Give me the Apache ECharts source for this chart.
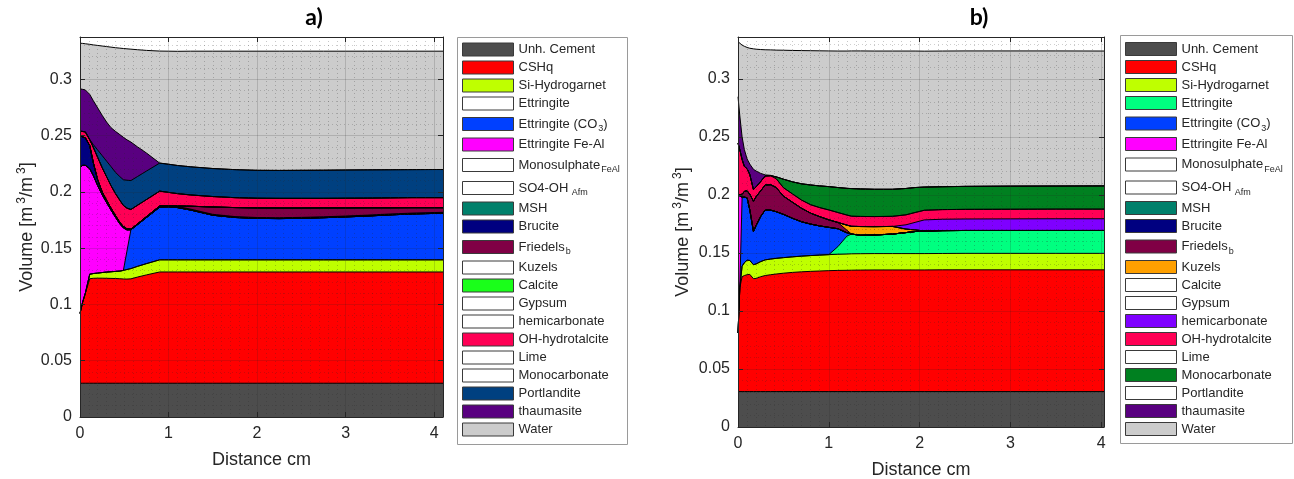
<!DOCTYPE html>
<html>
<head>
<meta charset="utf-8">
<script src="https://cdn.jsdelivr.net/npm/echarts@6/dist/echarts.min.js"></script>
<style>
html, body { margin: 0; padding: 0; background: #fff; }
#chart { width: 1294px; height: 479px; }
</style>
</head>
<body>
<div id="chart"></div>
<script>
// phases, bottom of the stack first (same order as the legends)
const phaseNames = [
  'Unh. Cement', 'CSHq', 'Si-Hydrogarnet', 'Ettringite', 'Ettringite (CO3)',
  'Ettringite Fe-Al', 'Monosulphate FeAl', 'SO4-OH Afm', 'MSH', 'Brucite',
  'Friedels b', 'Kuzels', 'Calcite', 'Gypsum', 'hemicarbonate',
  'OH-hydrotalcite', 'Lime', 'Monocarbonate', 'Portlandite', 'thaumasite', 'Water'
];

// ---- panel a) : volume of each phase [m3/m3] vs distance [cm]
const xA = [0, 0.03, 0.06, 0.11, 0.15, 0.2, 0.25, 0.3, 0.35, 0.4, 0.45, 0.49, 0.53, 0.575, 0.65, 0.75,
  0.9, 1.0, 1.1, 1.25, 1.5, 1.75, 2.0, 2.25, 2.5, 2.75, 3.0, 3.25, 3.5, 3.75, 4.0, 4.1];
const cementA = xA.map(() => 0.03);
const cshqA = [0.062, 0.072, 0.0798, 0.0928, 0.0932, 0.0933, 0.0933, 0.0932, 0.0931, 0.093, 0.0928, 0.0926, 0.0925, 0.0927, 0.0943, 0.0962,
  0.0988, 0.0988, 0.0988, 0.0988, 0.0988, 0.0988, 0.0988, 0.0988, 0.0988, 0.0988, 0.0988, 0.0988, 0.0988, 0.0988, 0.0988, 0.0988];
const siHydrogarnetA = [0, 0, 0, 0.004, 0.0042, 0.0045, 0.005, 0.0055, 0.0059, 0.0063, 0.0068, 0.0076, 0.0085, 0.0091, 0.0095, 0.01,
  0.0108, 0.0108, 0.0108, 0.0108, 0.0108, 0.0108, 0.0108, 0.0108, 0.0108, 0.0108, 0.0108, 0.0108, 0.0108, 0.0108, 0.0108, 0.0108];
const ettCO3A = [0, 0, 0, 0, 0, 0, 0, 0, 0, 0, 0, 0, 0.0163, 0.0345, 0.0371, 0.0409,
  0.0468, 0.047, 0.0464, 0.0442, 0.0396, 0.0376, 0.0368, 0.0366, 0.0369, 0.0374, 0.0381, 0.0389, 0.0399, 0.0407, 0.0412, 0.0414];
const ettFeAlA = [0.1295, 0.1215, 0.1137, 0.0937, 0.0871, 0.0777, 0.0692, 0.0618, 0.0548, 0.0482, 0.0419, 0.0378, 0.0189, 0, 0, 0,
  0, 0, 0, 0, 0, 0, 0, 0, 0, 0, 0, 0, 0, 0, 0, 0];
const bruciteA = [0.0285, 0.0252, 0.0245, 0.0205, 0.0115, 0.005, 0.0025, 0.002, 0.0017, 0.0015, 0.0013, 0.0012, 0.001, 0.0005, 0.0006, 0.0008,
  0.001, 0.0012, 0.001, 0.0008, 0.0008, 0.0008, 0.0008, 0.0008, 0.0008, 0.0008, 0.0008, 0.0008, 0.0008, 0.0008, 0.0008, 0.0008];
const friedelsA = [0, 0, 0, 0, 0, 0, 0, 0, 0, 0, 0, 0, 0, 0, 0, 0,
  0, 0, 0.0004, 0.0026, 0.0065, 0.008, 0.0085, 0.0086, 0.0083, 0.0079, 0.0072, 0.0065, 0.0055, 0.0048, 0.0043, 0.0041];
const ohHydrotalciteA = [0.0038, 0.0049, 0.0052, 0.0052, 0.0136, 0.02, 0.0215, 0.021, 0.02, 0.0195, 0.0197, 0.0187, 0.0183, 0.0175, 0.0166, 0.0152,
  0.0132, 0.0117, 0.011, 0.01, 0.0093, 0.0088, 0.0086, 0.0086, 0.0086, 0.0085, 0.0086, 0.0086, 0.0088, 0.0089, 0.0089, 0.0089];
const portlanditeA = [0, 0, 0, 0.0003, 0.0024, 0.0066, 0.0107, 0.0138, 0.0169, 0.0189, 0.021, 0.0228, 0.0248, 0.0257, 0.0255, 0.0253,
  0.0249, 0.025, 0.025, 0.025, 0.0249, 0.0249, 0.0248, 0.0248, 0.0249, 0.025, 0.0251, 0.0251, 0.025, 0.0249, 0.025, 0.025];
const thaumasiteA = [0.0377, 0.0374, 0.0373, 0.04, 0.039, 0.0374, 0.0358, 0.0347, 0.0346, 0.0363, 0.0373, 0.0377, 0.0359, 0.0342, 0.0263, 0.0161,
  0, 0, 0, 0, 0, 0, 0, 0, 0, 0, 0, 0, 0, 0, 0, 0];
const waterA = [0.0405, 0.0408, 0.041, 0.0445, 0.0495, 0.0555, 0.0615, 0.067, 0.0715, 0.0743, 0.0768, 0.0789, 0.0808, 0.0825, 0.0863, 0.0911,
  0.0995, 0.1004, 0.1014, 0.1027, 0.1042, 0.1052, 0.1058, 0.1059, 0.1058, 0.1057, 0.1055, 0.1054, 0.1053, 0.1052, 0.1051, 0.1051];

// ---- panel b)
const xB = [0, 0.02, 0.045, 0.07, 0.1, 0.13, 0.17, 0.2, 0.25, 0.3, 0.36, 0.42, 0.5, 0.6, 0.7, 0.8,
  0.9, 1.0, 1.1, 1.2, 1.25, 1.35, 1.5, 1.7, 1.85, 1.95, 2.05, 2.25, 2.5, 3.0, 3.5, 4.03];
const cementB = xB.map(() => 0.0305);
const cshqB = [0.0505, 0.0895, 0.099, 0.1, 0.1007, 0.101, 0.0973, 0.0975, 0.099, 0.1, 0.1007, 0.1013, 0.102, 0.1027, 0.1032, 0.1036,
  0.1039, 0.1042, 0.1044, 0.1045, 0.1046, 0.1047, 0.1048, 0.1048, 0.1048, 0.1048, 0.1048, 0.1049, 0.1049, 0.1049, 0.1049, 0.1049];
const siHydrogarnetB = [0, 0, 0.009, 0.011, 0.0125, 0.012, 0.012, 0.0125, 0.013, 0.0135, 0.0135, 0.0135, 0.0134, 0.0134, 0.0135, 0.0136,
  0.0137, 0.0138, 0.0139, 0.014, 0.0141, 0.0141, 0.0141, 0.0141, 0.0141, 0.0141, 0.0141, 0.0141, 0.0142, 0.0142, 0.0142, 0.0142];
const ettringiteB = [0, 0, 0, 0, 0, 0, 0, 0, 0, 0, 0, 0, 0, 0, 0, 0,
  0, 0, 0.0066, 0.0155, 0.017, 0.0159, 0.016, 0.0168, 0.0181, 0.019, 0.0195, 0.0197, 0.0197, 0.0197, 0.0197, 0.0197];
const ettCO3B = [0, 0, 0.059, 0.0565, 0.0538, 0.0435, 0.0287, 0.0332, 0.0389, 0.043, 0.0421, 0.0402, 0.0373, 0.0332, 0.0296, 0.0271,
  0.0251, 0.0235, 0.0154, 0.0028, 0, 0, 0, 0, 0, 0, 0, 0, 0, 0, 0, 0];
const ettFeAlB = [0.119, 0.08, 0.0005, 0, 0, 0, 0, 0, 0, 0, 0, 0, 0, 0, 0, 0,
  0, 0, 0, 0, 0, 0, 0, 0, 0, 0, 0, 0, 0, 0, 0, 0];
const friedelsB = [0, 0, 0.0025, 0.005, 0.006, 0.0135, 0.026, 0.0248, 0.0221, 0.0215, 0.0219, 0.0208, 0.0157, 0.0138, 0.0116, 0.0094,
  0.008, 0.0065, 0.0054, 0.0022, 0, 0, 0, 0, 0, 0, 0, 0, 0, 0, 0, 0];
const kuzelsB = [0, 0, 0, 0, 0, 0, 0, 0, 0, 0, 0, 0, 0, 0, 0, 0,
  0, 0, 0, 0.0044, 0.0067, 0.0075, 0.0072, 0.0066, 0.003, 0.0014, 0, 0, 0, 0, 0, 0];
const hemicarbonateB = [0, 0, 0, 0, 0, 0, 0, 0, 0, 0, 0, 0, 0, 0, 0, 0,
  0, 0, 0, 0, 0, 0, 0, 0, 0.0037, 0.0065, 0.0095, 0.0098, 0.0099, 0.01, 0.0101, 0.0101];
const ohHydrotalciteB = [0.0445, 0.039, 0.03, 0.0215, 0.019, 0.017, 0.01, 0.0085, 0.008, 0.0078, 0.0078, 0.0077, 0.0073, 0.0072, 0.0071, 0.0073,
  0.0078, 0.0085, 0.0086, 0.0087, 0.0087, 0.0087, 0.0087, 0.0087, 0.0086, 0.0085, 0.0083, 0.0083, 0.0083, 0.0083, 0.0083, 0.0083];
const monocarbonateB = [0, 0, 0, 0, 0, 0, 0, 0, 0, 0, 0, 0.0015, 0.0073, 0.0104, 0.014, 0.017,
  0.0187, 0.0201, 0.0215, 0.023, 0.0238, 0.0237, 0.0235, 0.0233, 0.0227, 0.0215, 0.02, 0.0197, 0.0198, 0.0199, 0.0199, 0.02];
const thaumasiteB = [0.04, 0.029, 0.0195, 0.0145, 0.0085, 0.009, 0.0175, 0.0135, 0.007, 0.0009, 0.0003, 0, 0, 0, 0, 0,
  0, 0, 0, 0, 0, 0, 0, 0, 0, 0, 0, 0, 0, 0, 0, 0];
const waterB = [0.0475, 0.0625, 0.079, 0.089, 0.096, 0.0998, 0.1038, 0.105, 0.1067, 0.1078, 0.1081, 0.1092, 0.1111, 0.1132, 0.1148, 0.1157,
  0.1164, 0.1169, 0.1176, 0.1183, 0.1186, 0.1189, 0.1191, 0.1191, 0.1184, 0.1176, 0.1171, 0.1169, 0.1167, 0.1165, 0.1164, 0.1162];

// null = phase not formed in that run
const layersA = [cementA, cshqA, siHydrogarnetA, null, ettCO3A, ettFeAlA, null, null, null, bruciteA,
  friedelsA, null, null, null, null, ohHydrotalciteA, null, null, portlanditeA, thaumasiteA, waterA];
const layersB = [cementB, cshqB, siHydrogarnetB, ettringiteB, ettCO3B, ettFeAlB, null, null, null, null,
  friedelsB, kuzelsB, null, null, hemicarbonateB, ohHydrotalciteB, null, monocarbonateB, null, thaumasiteB, waterB];

const colorsA = ['#4d4d4d', '#ff0000', '#bfff00', '#ffffff', '#0040ff', '#ff00ff', '#ffffff', '#ffffff', '#00806b', '#000080',
  '#800045', '#ffffff', '#1aff1a', '#ffffff', '#ffffff', '#ff0055', '#ffffff', '#ffffff', '#004080', '#590080', '#cccccc'];
const colorsB = ['#4d4d4d', '#ff0000', '#bfff00', '#00ff80', '#0040ff', '#ff00ff', '#ffffff', '#ffffff', '#00806b', '#000080',
  '#800045', '#ffa000', '#ffffff', '#ffffff', '#7f00ff', '#ff0055', '#ffffff', '#008020', '#ffffff', '#590080', '#cccccc'];

const FONT = '"Liberation Sans", Arial, Helvetica, sans-serif';
const INK = '#262626';

const richLabels = {
  'Ettringite (CO3)': '{n|Ettringite (CO}{s|3}{n|)}',
  'Monosulphate FeAl': '{n|Monosulphate}{s|FeAl}',
  'SO4-OH Afm': '{n|SO4-OH}{s| Afm}',
  'Friedels b': '{n|Friedels}{s|b}'
};

// stacked areas: cumulative tops, drawn from the top phase down so lower ones paint over
function buildSeries(tag, xs, layers, colors, axis) {
  let run = xs.map(() => 0);
  const tops = layers.map(vals => {
    run = run.map((r, j) => r + (vals ? vals[j] : 0));
    return run.slice();
  });
  const out = [];
  for (let i = layers.length - 1; i >= 0; i--) {
    out.push({
      type: 'line',
      name: tag + '|' + phaseNames[i],
      xAxisIndex: axis,
      yAxisIndex: axis,
      data: xs.map((x, j) => [x, tops[i][j]]),
      symbol: 'none',
      silent: true,
      z: 2,
      lineStyle: { color: '#000', width: 1 },
      itemStyle: { color: colors[i] },
      areaStyle: { color: colors[i], opacity: 1, origin: 'start' }
    });
  }
  return out;
}

function buildLegend(tag, colors, left, top) {
  return {
    orient: 'vertical',
    left: left,
    top: top,
    padding: 0,
    itemWidth: 51,
    itemHeight: 13,
    itemGap: 4.0,
    icon: 'rect',
    selectedMode: false,
    formatter: name => {
      const base = name.slice(2);
      return richLabels[base] || '{n|' + base + '}';
    },
    textStyle: {
      fontFamily: FONT,
      fontSize: 13,
      color: INK,
      rich: {
        n: { fontFamily: FONT, fontSize: 13, lineHeight: 13, color: INK },
        s: { fontFamily: FONT, fontSize: 9, lineHeight: 9, padding: [10, 0, 0, 1], color: INK }
      }
    },
    data: phaseNames.map((p, i) => ({
      name: tag + '|' + p,
      itemStyle: { color: colors[i], borderColor: '#3a3a3a', borderWidth: 1 }
    }))
  };
}

const yName = '{n|Volume [m}{p|3}{n|/m}{p|3}{n|]}';

function xAxes(grid, max) {
  return [{
    type: 'value', gridIndex: grid, position: 'bottom', min: 0, max: max, interval: 1, z: 10,
    name: 'Distance cm', nameLocation: 'middle', nameGap: 34, nameMoveOverlap: false,
    nameTextStyle: { fontFamily: FONT, fontSize: 18, color: INK },
    axisLine: { show: true, onZero: false, lineStyle: { color: INK, width: 1 } },
    axisTick: { show: true, inside: true, length: 5, lineStyle: { color: INK } },
    axisLabel: { show: true, margin: 9, fontFamily: FONT, fontSize: 16, color: INK, showMaxLabel: false },
    splitLine: { show: true, lineStyle: { color: 'rgba(38,38,38,0.17)', width: 1 } },
    minorTick: { show: false, splitNumber: 10 },
    minorSplitLine: { show: true, lineStyle: { color: 'rgba(38,38,38,0.26)', width: 1, type: [1, 3] } }
  }, {
    type: 'value', gridIndex: grid, position: 'top', min: 0, max: max, interval: 1, z: 10,
    axisLine: { show: true, onZero: false, lineStyle: { color: INK, width: 1 } },
    axisTick: { show: true, inside: true, length: 5, lineStyle: { color: INK } },
    axisLabel: { show: false },
    splitLine: { show: false }
  }];
}

function yAxes(grid, max, gap) {
  return [{
    type: 'value', gridIndex: grid, position: 'left', min: 0, max: max, interval: 0.05, z: 10,
    name: yName, nameLocation: 'middle', nameGap: gap, nameRotate: 90, nameMoveOverlap: false,
    nameTextStyle: {
      fontFamily: FONT, fontSize: 18, color: INK,
      rich: {
        n: { fontFamily: FONT, fontSize: 18, lineHeight: 18, color: INK },
        p: { fontFamily: FONT, fontSize: 12, lineHeight: 12, padding: [0, 0, 10, 3], color: INK }
      }
    },
    axisLine: { show: true, onZero: false, lineStyle: { color: INK, width: 1 } },
    axisTick: { show: true, inside: true, length: 5, lineStyle: { color: INK } },
    axisLabel: { show: true, margin: 8, fontFamily: FONT, fontSize: 16, color: INK, showMaxLabel: false },
    splitLine: { show: true, lineStyle: { color: 'rgba(38,38,38,0.17)', width: 1 } },
    minorTick: { show: false, splitNumber: 5 },
    minorSplitLine: { show: true, lineStyle: { color: 'rgba(38,38,38,0.22)', width: 1, type: [1, 3] } }
  }, {
    type: 'value', gridIndex: grid, position: 'right', min: 0, max: max, interval: 0.05, z: 10,
    axisLine: { show: true, onZero: false, lineStyle: { color: INK, width: 1 } },
    axisTick: { show: true, inside: true, length: 5, lineStyle: { color: INK } },
    axisLabel: { show: false },
    splitLine: { show: false }
  }];
}

const chart = echarts.init(document.getElementById('chart'), null, { renderer: 'canvas' });
chart.setOption({
  animation: false,
  backgroundColor: '#ffffff',
  grid: [
    { left: 80, top: 37, width: 363, height: 380, outerBoundsMode: 'none' },
    { left: 738, top: 37, width: 366, height: 390, outerBoundsMode: 'none' }
  ],
  xAxis: [...xAxes(0, 4.1), ...xAxes(1, 4.03)],
  yAxis: [...yAxes(0, 0.3375, 44), ...yAxes(1, 0.336, 46)],
  legend: [
    buildLegend('a', colorsA, 462, 42.5),
    buildLegend('b', colorsB, 1125, 42)
  ],
  graphic: [
    { type: 'rect', z: 0, shape: { x: 457.5, y: 37.5, width: 170, height: 407 },
      style: { fill: '#fff', stroke: '#9a9a9a', lineWidth: 1 } },
    { type: 'rect', z: 0, shape: { x: 1120.5, y: 35.5, width: 172, height: 408 },
      style: { fill: '#fff', stroke: '#9a9a9a', lineWidth: 1 } },
    { type: 'text', z: 10, style: { text: 'a)', x: 314, y: 18, font: 'bold 23px Lato, "Open Sans", sans-serif',
      textAlign: 'center', textVerticalAlign: 'middle', fill: '#000' } },
    { type: 'text', z: 10, style: { text: 'b)', x: 979, y: 18, font: 'bold 23px Lato, "Open Sans", sans-serif',
      textAlign: 'center', textVerticalAlign: 'middle', fill: '#000' } }
  ],
  series: [
    ...buildSeries('a', xA, layersA, colorsA, 0),
    ...buildSeries('b', xB, layersB, colorsB, 2)
  ]
});
</script>
</body>
</html>
